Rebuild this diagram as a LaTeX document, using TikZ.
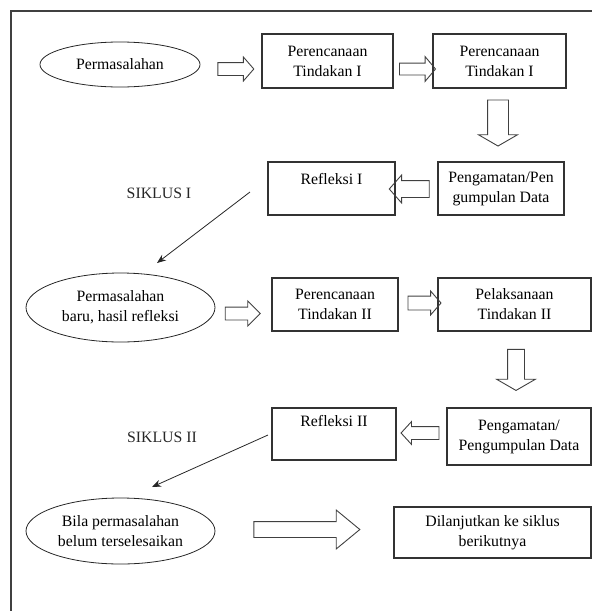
\documentclass[tikz,border=0pt]{standalone}
\usepackage{fontspec}
\setmainfont{Liberation Serif}
\usetikzlibrary{shapes.geometric, shapes.arrows, arrows.meta}

\begin{document}
\begin{tikzpicture}[x=1pt, y=-1pt,
	every node/.style={font=\fontsize{15.8}{20}\selectfont, align=center, text=black},
	box/.style={draw=black!80, line width=1.1pt, inner sep=0pt},
	oval/.style={draw=black!85, line width=0.8pt, ellipse, inner sep=0pt},
	fat/.style={draw=black!75, line width=0.9pt, single arrow, inner xsep=0pt, outer sep=0pt},
	pointer/.style={draw=black!85, line width=0.8pt, -{Stealth[length=9pt, width=7pt]}}]

			\useasboundingbox (0,0) rectangle (592,611);
			% Frame
			\draw[black!75, line width=1.8pt] (11,611) -- (11,11) -- (592,11);

			% Siklus I
			\node[oval, minimum width=160pt, minimum height=45pt] (perm1) at (120,64.5) {Permasalahan};
			\node[box, minimum width=131pt, minimum height=54pt] (plan1) at (327.5,61) {Perencanaan\\Tindakan I};
			\node[box, minimum width=133pt, minimum height=54pt] (plan1b) at (499.5,61) {Perencanaan\\Tindakan I};
			\node[box, minimum width=126pt, minimum height=53pt] (obs1) at (501,188.5) {Pengamatan/Pen\\gumpulan Data};
			\node[box, minimum width=127pt, minimum height=53pt, text depth=20pt] (refl1) at (331.5,188.5) {Refleksi I};
			\node[text=black!85] (cyc1) at (159,193) {SIKLUS I};

			% Siklus II
			\node[oval, minimum width=189pt, minimum height=69pt] (perm2) at (120.5,307.5) {Permasalahan\\baru, hasil refleksi};
			\node[box, minimum width=126pt, minimum height=53pt] (plan2) at (335,304.5) {Perencanaan\\Tindakan II};
			\node[box, minimum width=153pt, minimum height=53pt] (act2) at (514.5,304.5) {Pelaksanaan\\Tindakan II};
			\node[box, minimum width=144pt, minimum height=57pt] (obs2) at (519,436.5) {Pengamatan/\\Pengumpulan Data};
			\node[box, minimum width=124pt, minimum height=52pt, text depth=27pt] (refl2) at (334,434) {Refleksi II};
			\node[text=black!85] (cyc2) at (162,437) {SIKLUS II};

			% Lanjut
			\node[oval, minimum width=189pt, minimum height=66pt] (perm3) at (120.5,531) {Bila permasalahan\\belum terselesaikan};
			\node[box, minimum width=197pt, minimum height=51pt] (next) at (492.5,532.5) {Dilanjutkan ke siklus\\berikutnya};

			% Block arrows
			\node[fat, minimum height=36pt, inner ysep=6pt, single arrow head extend=5.5pt, single arrow tip angle=98] (ar1) at (233,69) {};
			\node[fat, minimum height=36pt, inner ysep=5.5pt, single arrow head extend=6.5pt, single arrow tip angle=100] (ar2) at (415,69) {};
			\node[fat, minimum height=46pt, inner xsep=10pt, inner ysep=0pt, single arrow head extend=9pt, single arrow tip angle=120, shape border rotate=270] (ar3) at (498,120) {};
			\node[fat, minimum height=40pt, inner ysep=8pt, single arrow head extend=5.5pt, single arrow tip angle=97, shape border rotate=180] (ar4) at (413,189) {};
			\node[fat, minimum height=35pt, inner ysep=6pt, single arrow head extend=6pt, single arrow tip angle=90] (ar5) at (239.5,313.5) {};
			\node[fat, minimum height=33pt, inner ysep=6.5pt, single arrow head extend=5pt, single arrow tip angle=98] (ar6) at (421.5,303) {};
			\node[fat, minimum height=41pt, inner xsep=8pt, inner ysep=0pt, single arrow head extend=11pt, single arrow tip angle=120, shape border rotate=270] (ar7) at (516,367.5) {};
			\node[fat, minimum height=38pt, inner ysep=6pt, single arrow head extend=5pt, single arrow tip angle=95, shape border rotate=180] (ar8) at (423,433) {};
			\node[fat, minimum height=106pt, inner ysep=7.5pt, single arrow head extend=11.5pt, single arrow tip angle=79] (ar9) at (302,529.5) {};

			% Arrows back to a new problem
			\coordinate (from1) at (250,192);
			\coordinate (to1) at (157,263);
			\coordinate (from2) at (268,435);
			\coordinate (to2) at (152,487);
			\draw[pointer] (from1) -- (to1);
			\draw[pointer] (from2) -- (to2);
		\end{tikzpicture}
\end{document}
